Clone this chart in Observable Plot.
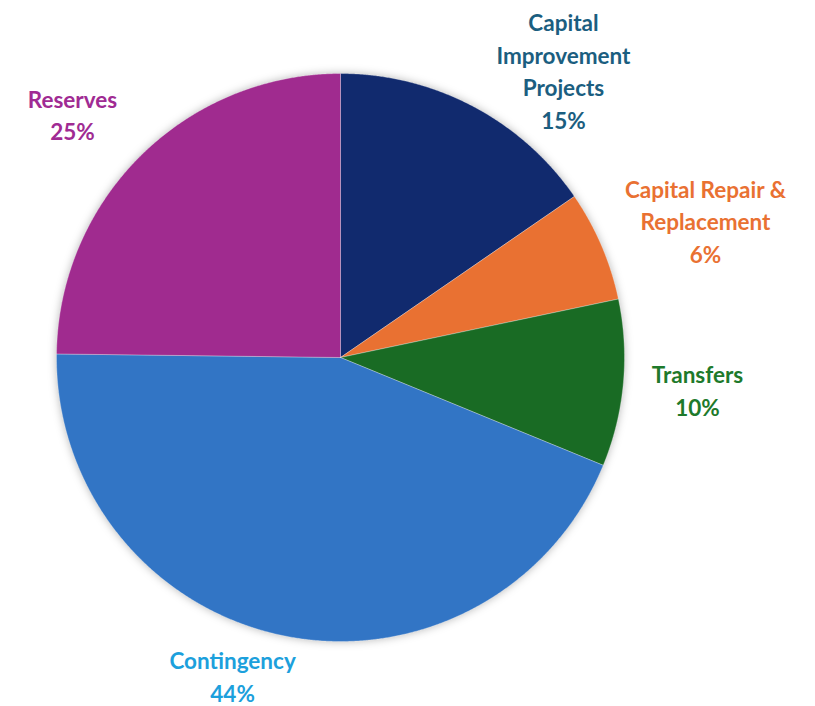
<!DOCTYPE html>
<html>
<head>
<meta charset="utf-8">
<script src="https://cdn.jsdelivr.net/npm/d3@7"></script>
<script src="https://cdn.jsdelivr.net/npm/@observablehq/plot@0.6"></script>
<style>
  html, body { margin: 0; padding: 0; background: #fff; }
  #chart svg g[aria-label="line"] { filter: drop-shadow(0 0 4px rgba(0,0,0,0.28)); }
</style>
</head>
<body>
<div id="chart"></div>
<script>
// ---- data ----
const categories = ["Capital Improvement Projects", "Capital Repair & Replacement", "Transfers", "Contingency", "Reserves"];
const labelLines = [["Capital", "Improvement", "Projects"], ["Capital Repair &", "Replacement"], ["Transfers"], ["Contingency"], ["Reserves"]];
const shares = [15.4, 6.3, 9.5, 44.0, 24.8];          // slice sizes
const percentLabels = ["15%", "6%", "10%", "44%", "25%"]; // labels as printed

// ---- styling / layout (not data) ----
const sliceColors = ["#112A6E", "#E97132", "#196B24", "#3275C5", "#A02B8F"];
const labelColors = ["#1B5E80", "#E97132", "#1E7A2B", "#1CA0DC", "#A02B93"];
const labelPos = [[0.785, 1.014], [1.285, 0.484], [1.257, -0.111], [-0.380, -1.118], [-0.944, 0.859]];

const pie = d3.pie().sort(null).value(d => d)(shares);

// polygon points for each wedge derived from the data via d3.pie
const pts = [];
pie.forEach((a, i) => {
  const cat = categories[i];
  pts.push({cat, x: 0, y: 0});
  const n = Math.max(2, Math.ceil((a.endAngle - a.startAngle) / (Math.PI / 720)));
  for (let k = 0; k <= n; k++) {
    const t = a.startAngle + (a.endAngle - a.startAngle) * k / n;
    pts.push({cat, x: Math.sin(t), y: Math.cos(t)});
  }
  pts.push({cat, x: 0, y: 0});
});

const labels = categories.map((c, i) => ({
  cat: c,
  text: [...labelLines[i], percentLabels[i]].join("\n"),
  x: labelPos[i][0],
  y: labelPos[i][1]
}));

const chart = Plot.plot({
  width: 815,
  height: 706,
  margin: 0,
  x: {domain: [-1, 1], range: [56, 624], axis: null},
  y: {domain: [-1, 1], range: [641, 73], axis: null},
  color: {domain: categories, range: sliceColors},
  style: {background: "#fff"},
  marks: [
    Plot.line(pts, {x: "x", y: "y", z: "cat", fill: "cat", stroke: "#ffffff", strokeWidth: 0.6, strokeOpacity: 0.5, curve: "linear"}),
    Plot.text(labels, {
      x: "x", y: "y", text: "text",
      fill: (d) => labelColors[categories.indexOf(d.cat)],
      fontFamily: "Lato", fontWeight: "bold", fontSize: 22.5,
      lineHeight: 1.45, textAnchor: "middle", lineAnchor: "middle"
    })
  ]
});
document.getElementById("chart").appendChild(chart);
</script>
</body>
</html>
